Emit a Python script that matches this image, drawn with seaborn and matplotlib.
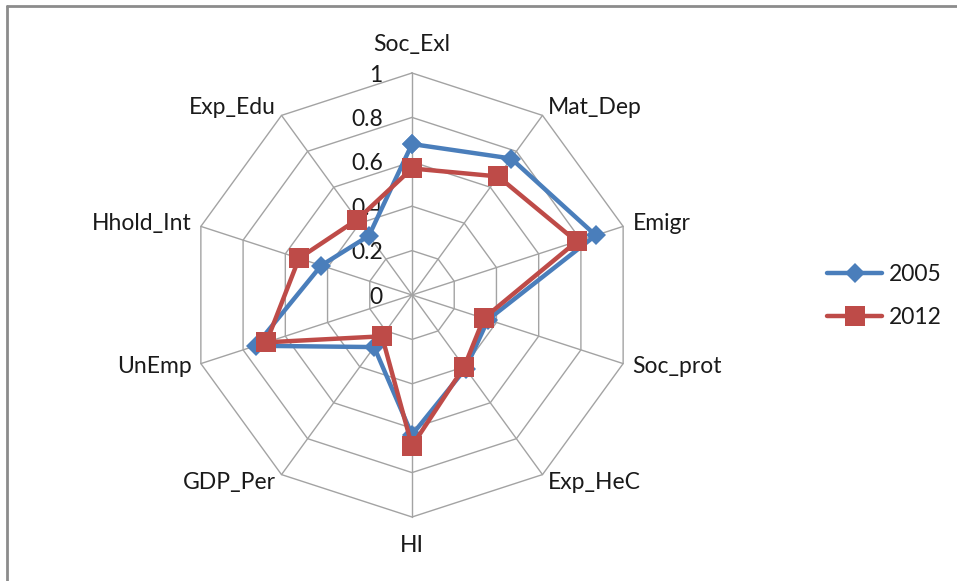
import numpy as np
import pandas as pd
import matplotlib
matplotlib.use("Agg")
import matplotlib.pyplot as plt
import seaborn as sns

# ---- data ----
categories = ["Soc_Exl", "Mat_Dep", "Emigr", "Soc_prot", "Exp_HeC",
              "HI", "GDP_Per", "UnEmp", "Hhold_Int", "Exp_Edu"]
values_2005 = [0.68, 0.76, 0.87, 0.36, 0.41, 0.63, 0.29, 0.74, 0.43, 0.33]
values_2012 = [0.57, 0.66, 0.78, 0.34, 0.40, 0.68, 0.23, 0.69, 0.535, 0.42]
series_names = ["2005", "2012"]
tick_values = [0, 0.2, 0.4, 0.6, 0.8, 1.0]
tick_labels = ["0", "0.2", "0.4", "0.6", "0.8", "1"]

sns.set_style("white")
plt.rcParams["font.family"] = ["Lato", "DejaVu Sans"]

W, H = 957, 581
fig = plt.figure(figsize=(W / 100, H / 100), dpi=100)
fig.patch.set_facecolor("white")

cx, cy, R = 412, 295, 222  # pixel centre and radius
L = 260
ax = fig.add_axes([(cx - L) / W, (H - cy - L) / H, 2 * L / W, 2 * L / H])
lim = L / R
ax.set_xlim(-lim, lim)
ax.set_ylim(-lim, lim)
ax.set_axis_off()

n = len(categories)
ang = np.arange(n) * 2 * np.pi / n  # clockwise from top
sx, sy = np.sin(ang), np.cos(ang)

grid_c = "#a3a3a3"
for t in tick_values[1:]:
    ax.plot(np.append(sx, sx[0]) * t, np.append(sy, sy[0]) * t,
            color=grid_c, lw=1.0, zorder=1)
for i in range(n):
    ax.plot([0, sx[i]], [0, sy[i]], color=grid_c, lw=1.0, zorder=1)

# tick labels
fs = 16.5
for t, lab in zip(tick_values, tick_labels):
    ax.annotate(lab, (0, t), xytext=(-21, -1.5), textcoords="offset points",
                ha="right", va="center", fontsize=fs, color="#1a1a1a", zorder=2)

# category labels
for i, c in enumerate(categories):
    x, y = sx[i], sy[i]
    if abs(x) < 1e-6:
        if y > 0:
            ax.annotate(c, (x, y), xytext=(0, 13), textcoords="offset points",
                        ha="center", va="bottom", fontsize=fs, color="#1a1a1a")
        else:
            ax.annotate(c, (x, y), xytext=(0, -13), textcoords="offset points",
                        ha="center", va="top", fontsize=fs, color="#1a1a1a")
    else:
        off = 7.0
        ax.annotate(c, (x, y), xytext=(off * x, off * y), textcoords="offset points",
                    ha="left" if x > 0 else "right", va="center",
                    fontsize=fs, color="#1a1a1a")

# series data frame (closed polygons)
rows = []
for name, vals in zip(series_names, [values_2005, values_2012]):
    for k in list(range(n)) + [0]:
        rows.append({"year": name, "category": categories[k], "value": vals[k],
                     "x": vals[k] * sx[k], "y": vals[k] * sy[k], "order": len(rows)})
df = pd.DataFrame(rows)

palette = {"2005": "#4a7ebb", "2012": "#be4b48"}
sns.lineplot(data=df[df.year == "2005"], x="x", y="y", sort=False, estimator=None,
             color=palette["2005"], lw=3.2, marker="D", markersize=10.5,
             markeredgewidth=0, ax=ax, label="2005", zorder=3)
sns.lineplot(data=df[df.year == "2012"], x="x", y="y", sort=False, estimator=None,
             color=palette["2012"], lw=3.2, marker="s", markersize=14.5,
             markeredgewidth=0, ax=ax, label="2012", zorder=4)

leg = ax.legend(loc="center left", bbox_to_anchor=(827 / W, 1 - 296 / H),
                bbox_transform=fig.transFigure, frameon=False, fontsize=fs,
                handlelength=2.4, handletextpad=0.3, labelspacing=0.95,
                borderpad=0, borderaxespad=0)
for txt in leg.get_texts():
    txt.set_color("#1a1a1a")

# outer frame (top and left edges visible)
fig.add_artist(plt.Line2D([7 / W, 7 / W], [0, 1 - 6 / H], transform=fig.transFigure,
                          color="#8c8c8c", lw=2))
fig.add_artist(plt.Line2D([7 / W, 1], [1 - 6 / H, 1 - 6 / H], transform=fig.transFigure,
                          color="#8c8c8c", lw=2))

fig.savefig("out.png", dpi=100, facecolor="white")
